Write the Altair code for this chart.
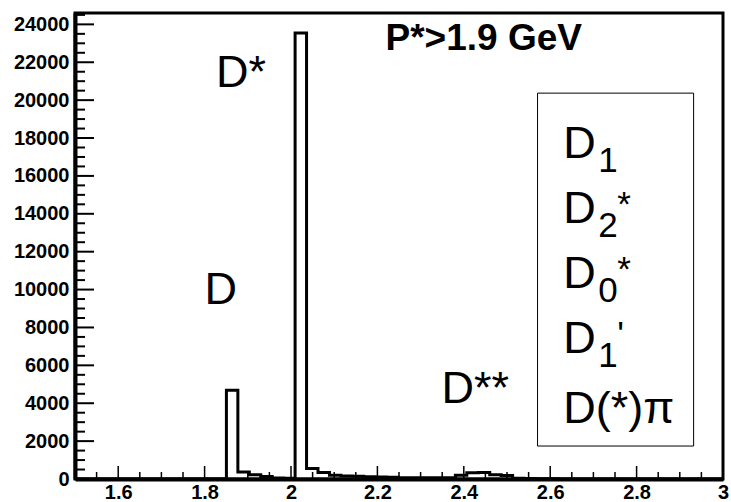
import altair as alt
import pandas as pd

# ---------------- data ----------------
bin_start = 1.8505
bin_width = 0.0265
counts = [4680, 370, 230, 130, 50, 40, 23540, 550, 340, 200, 160, 140, 120,
          110, 90, 70, 60, 60, 60, 70, 200, 330, 340, 220, 180, 40, 20, 10, 10, 0]

x_range = [1.5, 3.0]
y_range = [0, 24600]

x_labels = [1.6, 1.8, 2.0, 2.2, 2.4, 2.6, 2.8, 3.0]
x_minor = [1.55, 1.65, 1.7, 1.75, 1.85, 1.9, 1.95, 2.05, 2.1, 2.15, 2.25, 2.3, 2.35,
           2.45, 2.5, 2.55, 2.65, 2.7, 2.75, 2.85, 2.9, 2.95]
y_labels = [0, 2000, 4000, 6000, 8000, 10000, 12000, 14000, 16000, 18000, 20000, 22000, 24000]
y_minor = [v + d for v in y_labels for d in (500, 1000, 1500) if v + d < 24600]

annot_text = ["D*", "D", "D**"]
annot_x = [1.8265, 1.7995, 2.3485]
annot_y = [20686, 9219, 3995]

title_text = ["P*>1.9 GeV"]
title_x = [2.2188]
title_y = [22623]

legend_main = ["D", "D", "D", "D", "D(*)\u03c0"]
legend_x = [2.6302, 2.6302, 2.6302, 2.6302, 2.6302]
legend_y = [16924, 13493, 10063, 6633, 2939]
legend_sub = ["1", "2", "0", "1", ""]
legend_sup = ["", "*", "*", "'", ""]

box_x = [2.5707]
box_x2 = [2.932]
box_y = [1741]
box_y2 = [20370]

W, H = 648, 466
FONT = "Liberation Sans"
LBL = 20

# ---------------- tables ----------------
edges = [bin_start + i * bin_width for i in range(len(counts) + 1)]
hist = pd.DataFrame({
    "x": [x_range[0]] + edges + [x_range[1]],
    "y": [0] + counts + [0, 0],
})

xs = alt.Scale(domain=x_range, nice=False, zero=False)
ys = alt.Scale(domain=y_range, nice=False)

x_axis = alt.Axis(values=x_labels, format="~g", labelPadding=3, ticks=False, grid=False,
                  title=None, labelFont=FONT, labelFontWeight="bold", labelFontSize=LBL,
                  labelColor="black", labelOverlap=False, labelFlush=False,
                  domainColor="black", domainWidth=4)
y_axis = alt.Axis(values=y_labels, format="d", labelPadding=6, ticks=False, grid=False,
                  title=None, labelFont=FONT, labelFontWeight="bold", labelFontSize=LBL,
                  labelColor="black", labelOverlap=False, labelFlush=False,
                  domainColor="black", domainWidth=4)

line = alt.Chart(hist).mark_line(interpolate="step-after", color="black",
                                 strokeWidth=3, clip=True).encode(
    x=alt.X("x:Q", scale=xs, axis=x_axis),
    y=alt.Y("y:Q", scale=ys, axis=y_axis),
)

# inside ticks
xmaj = alt.Chart(pd.DataFrame({"x": x_labels[:-1]})).mark_rule(color="black", strokeWidth=1.5).encode(
    x=alt.X("x:Q", scale=xs, axis=x_axis), y=alt.value(H), y2=alt.value(H - 13))
xmin = alt.Chart(pd.DataFrame({"x": x_minor})).mark_rule(color="black", strokeWidth=1.5).encode(
    x=alt.X("x:Q", scale=xs, axis=x_axis), y=alt.value(H), y2=alt.value(H - 7))
ymaj = alt.Chart(pd.DataFrame({"y": y_labels[1:]})).mark_rule(color="black", strokeWidth=2).encode(
    y=alt.Y("y:Q", scale=ys, axis=y_axis), x=alt.value(0), x2=alt.value(19))
ymin = alt.Chart(pd.DataFrame({"y": y_minor})).mark_rule(color="black", strokeWidth=2).encode(
    y=alt.Y("y:Q", scale=ys, axis=y_axis), x=alt.value(0), x2=alt.value(10))

box = alt.Chart(pd.DataFrame({"x": box_x, "x2": box_x2, "y": box_y, "y2": box_y2})).mark_rect(
    fill="white", stroke="black", strokeWidth=1).encode(
    x=alt.X("x:Q", scale=xs, axis=x_axis), x2="x2:Q",
    y=alt.Y("y:Q", scale=ys, axis=y_axis), y2="y2:Q")

def txt(df, field, size, weight="normal", dx=0, dy=0):
    return alt.Chart(df).mark_text(
        font=FONT, fontSize=size, fontWeight=weight, align="left",
        baseline="alphabetic", color="black", dx=dx, dy=dy).encode(
        x=alt.X("x:Q", scale=xs, axis=x_axis), y=alt.Y("y:Q", scale=ys, axis=y_axis),
        text=f"{field}:N")

annots = txt(pd.DataFrame({"t": annot_text, "x": annot_x, "y": annot_y}), "t", 45)
title = txt(pd.DataFrame({"t": title_text, "x": title_x, "y": title_y}), "t", 37, "bold")

leg_df = pd.DataFrame({"m": legend_main, "s": legend_sub, "p": legend_sup,
                       "x": legend_x, "y": legend_y})
leg_main = txt(leg_df, "m", 45)
leg_sub = txt(leg_df, "s", 35, dx=35, dy=14)
leg_sup = txt(leg_df, "p", 35, dx=54, dy=-7)

chart = alt.layer(
    box, xmin, xmaj, ymin, ymaj, line, annots, title, leg_main, leg_sub, leg_sup
).properties(
    width=W, height=H,
    autosize=alt.AutoSizeParams(type="none"),
    padding={"left": 75, "top": 13, "right": 8, "bottom": 23},
    background="white",
).configure_view(stroke="black", strokeWidth=3).configure_axis(
    ticks=False, grid=False, title=None,
    labelFont=FONT, labelFontWeight="bold", labelFontSize=LBL,
    labelColor="black", labelOverlap=False, labelFlush=False,
    domainColor="black", domainWidth=4,
)

chart.save("out.html", embed_options={"renderer": "svg", "actions": False})
